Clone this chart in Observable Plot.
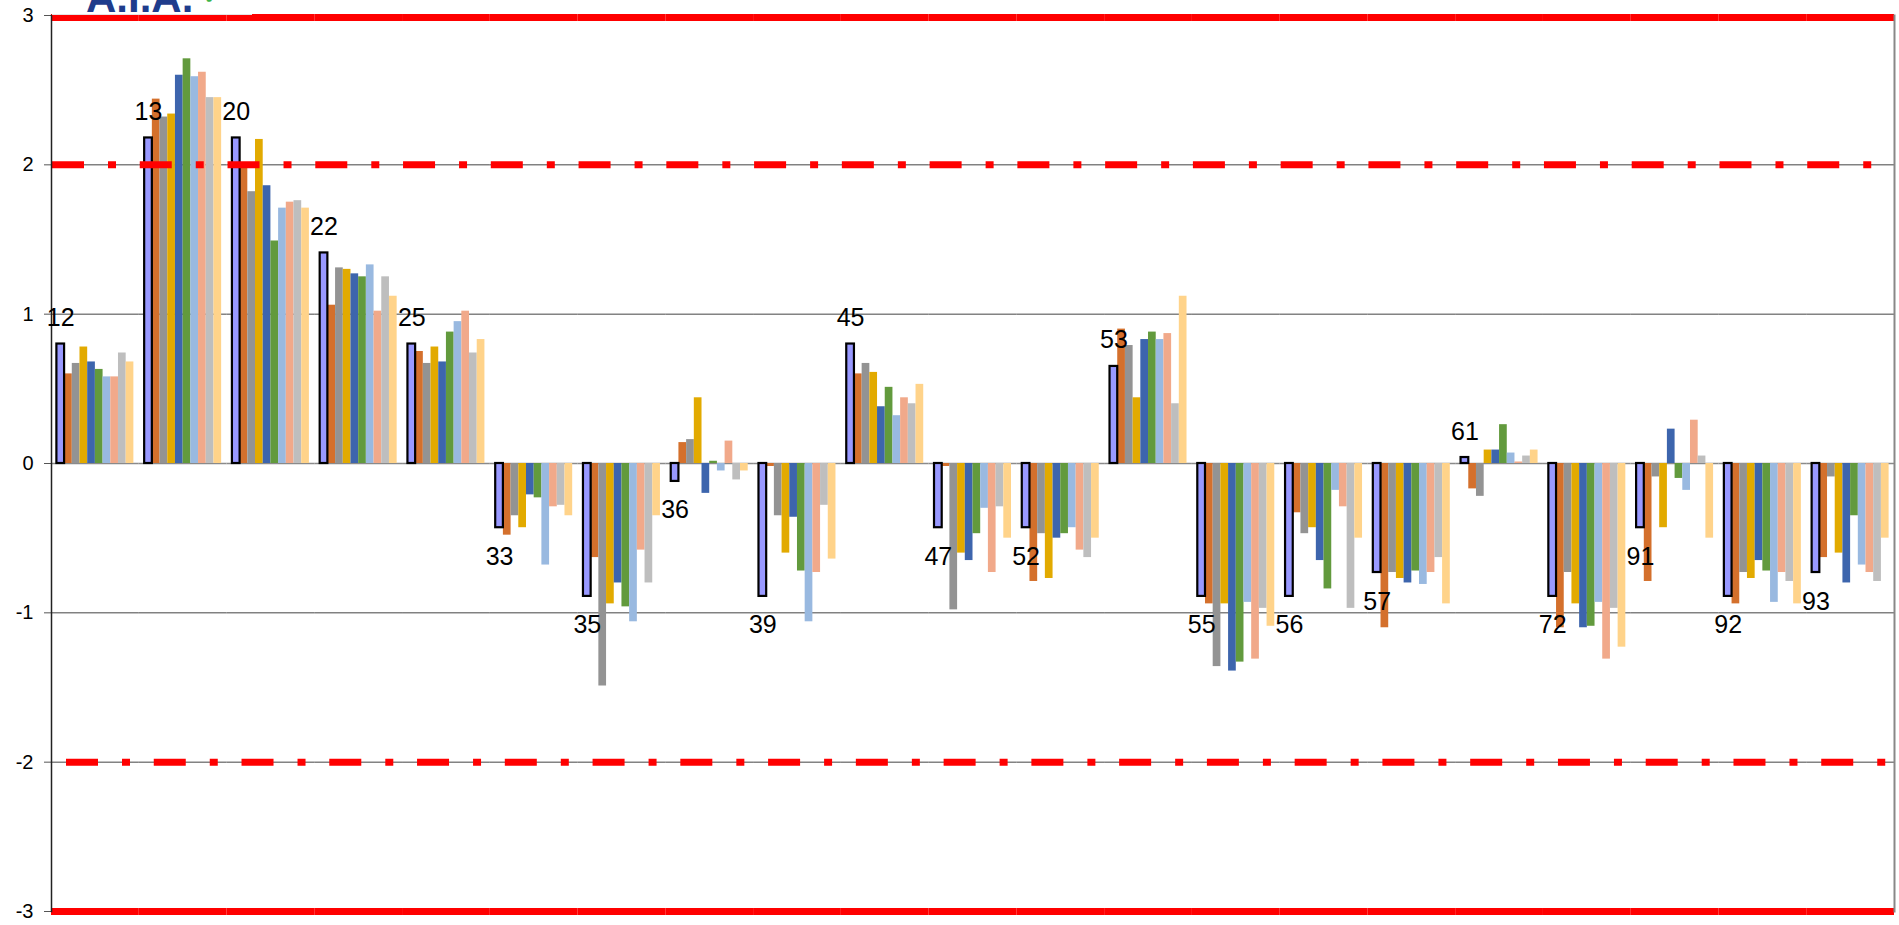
<!DOCTYPE html>
<html>
<head>
<meta charset="utf-8">
<script src="https://cdn.jsdelivr.net/npm/d3@7"></script>
<script src="https://cdn.jsdelivr.net/npm/@observablehq/plot@0.6"></script>
<style>
  html, body { margin: 0; padding: 0; background: #fff; }
  #wrap { position: relative; width: 1899px; height: 925px; overflow: hidden; }
  #logo { position: absolute; left: 52px; top: 0; width: 200px; height: 14px; background: #fff;
          overflow: hidden; border-bottom: 1px solid #e4e4e4; z-index: 2; }
  #logo span.t { position: absolute; left: 34px; top: -26px; line-height: 42px; font: bold 42px "Liberation Sans", Arial, sans-serif; color: #1F3C8C; }
  #logo span.c { position: absolute; left: 150px; top: -22px; line-height: 30px; font: bold 28px "DejaVu Sans", sans-serif; color: #3DB54A; }
</style>
</head>
<body>
<div id="wrap">
  <div id="logo"><span class="t">A.I.A.</span><span class="c">✔</span></div>
  <div id="chart"></div>
</div>
<script>
// Categories (group labels)
const groups = ["12","13","20","22","25","33","35","36","39","45","47","52","53","55","56","57","61","72","91","92","93"];
// Y tick labels
const yTicks = [-3, -2, -1, 0, 1, 2, 3];
const gridLines = [-2, -1, 1, 2];
const upperLimit = [2], lowerLimit = [-2];
const upperBound = [3], lowerBound = [-3];

// Series values (one value per group, in the order of `groups`)
const s1  = [0.80, 2.18, 2.18, 1.41, 0.80, -0.43, -0.89, -0.12, -0.89, 0.80, -0.43, -0.43, 0.65, -0.89, -0.89, -0.73, 0.04, -0.89, -0.43, -0.89, -0.73];
const s2  = [0.60, 2.44, 2.00, 1.06, 0.75, -0.48, -0.63, 0.14, -0.02, 0.60, -0.02, -0.79, 0.90, -0.94, -0.33, -1.10, -0.17, -1.10, -0.79, -0.94, -0.63];
const s3  = [0.67, 2.32, 1.82, 1.31, 0.67, -0.35, -1.49, 0.16, -0.35, 0.67, -0.98, -0.47, 0.79, -1.36, -0.47, -0.73, -0.22, -0.73, -0.09, -0.73, -0.09];
const s4  = [0.78, 2.34, 2.17, 1.30, 0.78, -0.43, -0.94, 0.44, -0.60, 0.61, -0.60, -0.77, 0.44, -0.94, -0.43, -0.77, 0.09, -0.94, -0.43, -0.77, -0.60];
const s5  = [0.68, 2.60, 1.86, 1.27, 0.68, -0.21, -0.80, -0.20, -0.36, 0.38, -0.65, -0.50, 0.83, -1.39, -0.65, -0.80, 0.09, -1.10, 0.23, -0.65, -0.80];
const s6  = [0.63, 2.71, 1.49, 1.25, 0.88, -0.23, -0.96, 0.015, -0.72, 0.51, -0.47, -0.47, 0.88, -1.33, -0.84, -0.72, 0.26, -1.09, -0.10, -0.72, -0.35];
const s7  = [0.58, 2.59, 1.71, 1.33, 0.95, -0.68, -1.06, -0.05, -1.06, 0.32, -0.30, -0.43, 0.83, -0.93, -0.18, -0.81, 0.07, -0.93, -0.18, -0.93, -0.68];
const s8  = [0.58, 2.62, 1.75, 1.02, 1.02, -0.29, -0.58, 0.15, -0.73, 0.44, -0.73, -0.58, 0.87, -1.31, -0.29, -0.73, 0.01, -1.31, 0.29, -0.73, -0.73];
const s9  = [0.74, 2.45, 1.76, 1.25, 0.74, -0.28, -0.80, -0.11, -0.28, 0.40, -0.29, -0.63, 0.40, -0.97, -0.97, -0.63, 0.05, -0.97, 0.05, -0.79, -0.79];
const s10 = [0.68, 2.45, 1.71, 1.12, 0.83, -0.35, -0.35, -0.05, -0.64, 0.53, -0.50, -0.50, 1.12, -1.09, -0.50, -0.94, 0.09, -1.23, -0.50, -0.94, -0.50];

const seriesNames = ["S1","S2","S3","S4","S5","S6","S7","S8","S9","S10"];
const seriesValues = [s1, s2, s3, s4, s5, s6, s7, s8, s9, s10];
const seriesColors = ["#9999FF","#D4702C","#939393","#E2AA00","#3D65AD","#629A3D","#99B9E0","#F1A98A","#BEBEBE","#FFD38A"];

const rows = [];
groups.forEach((g, gi) => {
  seriesNames.forEach((s, si) => rows.push({group: g, series: s, value: seriesValues[si][gi]}));
});
const first = rows.filter(d => d.series === seriesNames[0]);
const others = rows.filter(d => d.series !== seriesNames[0]);

const chart = Plot.plot({
  width: 1899,
  height: 925,
  marginTop: 15,
  marginBottom: 14,
  marginLeft: 51,
  marginRight: 5,
  style: {fontFamily: '"Liberation Sans", Arial, sans-serif', fontSize: "20px", color: "#000", background: "#fff"},
  fx: {domain: groups, padding: 0, round: false, axis: null},
  x: {domain: seriesNames, paddingInner: 0, paddingOuter: 0.7, round: false, axis: null},
  y: {domain: [-3, 3], axis: null},
  color: {domain: seriesNames, range: seriesColors},
  marks: [
    Plot.ruleY(gridLines, {stroke: "#444", strokeWidth: 1}),
    Plot.ruleY([0], {stroke: "#8a8a8a", strokeWidth: 1.6}),
    Plot.axisY({ticks: yTicks, tickFormat: d => String(d), tickSize: 7, tickPadding: 11, label: null,
                fontSize: 20, stroke: "#555", fill: "#000", facetAnchor: "left"}),
    Plot.barY(others, {fx: "group", x: "series", y: "value", fill: "series"}),
    Plot.barY(first, {fx: "group", x: "series", y: "value", fill: seriesColors[0], stroke: "#000", strokeWidth: 2.2}),
    Plot.ruleY(upperLimit, {stroke: "#FF0000", strokeWidth: 7, strokeDasharray: "32,24,8,24", strokeDashoffset: -1}),
    Plot.ruleY(lowerLimit, {stroke: "#FF0000", strokeWidth: 7, strokeDasharray: "32,24,8,24", strokeDashoffset: -15}),
    Plot.ruleY(upperBound, {stroke: "#FF0000", strokeWidth: 7, dy: 2}),
    Plot.ruleY(lowerBound, {stroke: "#FF0000", strokeWidth: 7}),
    Plot.frame({anchor: "left", facetAnchor: "left", stroke: "#222", strokeWidth: 1.5}),
    Plot.frame({anchor: "right", facetAnchor: "right", stroke: "#888", strokeWidth: 2}),
    Plot.text(first.filter(d => d.value >= 0), {fx: "group", x: "series", y: "value", text: "group", dy: -26, fontSize: 25, fill: "#000"}),
    Plot.text(first.filter(d => d.value < 0), {fx: "group", x: "series", y: "value", text: "group", dy: 29, fontSize: 25, fill: "#000"})
  ]
});
document.getElementById("chart").appendChild(chart);
</script>
</body>
</html>
